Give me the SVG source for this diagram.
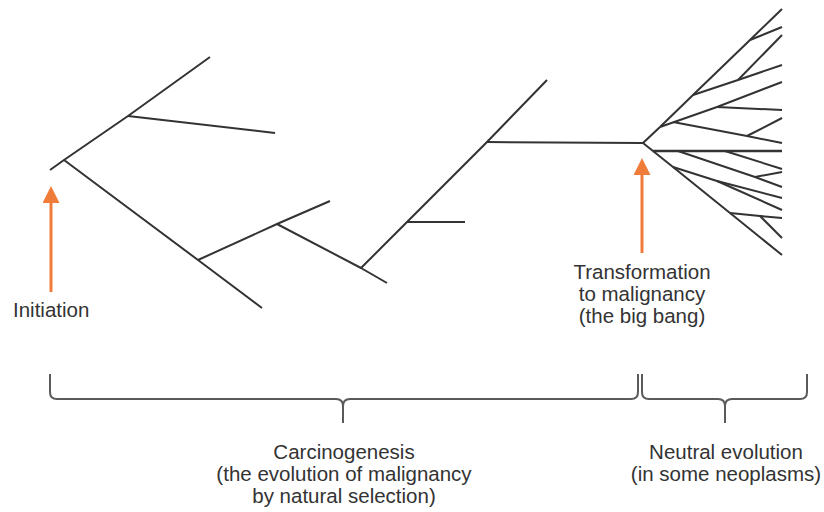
<svg xmlns="http://www.w3.org/2000/svg" width="824" height="512" viewBox="0 0 824 512">
  <defs>
    <style>
      .br { fill: none; stroke: #333; stroke-width: 2; stroke-linecap: butt; stroke-linejoin: round; }
      .brace { fill: none; stroke: #5a5a5a; stroke-width: 2; stroke-linejoin: round; }
      .arrow { stroke: #f07c3a; stroke-width: 3; fill: none; }
      .lbl { font-family: "Liberation Sans", Arial, Helvetica, sans-serif; font-size: 20.5px; fill: #333; }
      .mid { text-anchor: middle; }
    </style>
    <marker id="head" viewBox="0 0 17 17" refX="0" refY="8.5" markerWidth="17" markerHeight="17" markerUnits="userSpaceOnUse" orient="auto">
      <path d="M0,0 L17,8.5 L0,17 Z" fill="#f07c3a"/>
    </marker>
  </defs>
  <rect width="824" height="512" fill="#fff"/>

  <g id="connectors">
    <g id="carcinogenesis-tree">
      <path class="br" d="M50,170 L64,160 L128,116 L210,57"/>
      <path class="br" d="M128,116 L275,133"/>
      <path class="br" d="M64,160 L198,260 L262,308"/>
      <path class="br" d="M198,260 L277,224 L330,201"/>
      <path class="br" d="M277,224 L361,268 L387,283"/>
      <path class="br" d="M361,268 L407,222 L487,142 L547,80"/>
      <path class="br" d="M407,222 H465"/>
      <path class="br" d="M487,142 L643,143"/>
    </g>
    <g id="neutral-fan">
      <path class="br" d="M643,143 L660,127"/>
      <path class="br" d="M660,127 L693,95 L750,40 L782,9"/>
      <path class="br" d="M750,40 L782,27"/>
      <path class="br" d="M693,95 L738,80 L782,65"/>
      <path class="br" d="M738,80 L782,35"/>
      <path class="br" d="M660,127 L717,107 L782,82"/>
      <path class="br" d="M717,107 L782,110"/>
      <path class="br" d="M673,122 L747,136 L782,143"/>
      <path class="br" d="M747,136 L782,118"/>
      <path class="br" d="M643,143 L653,151 L673,167 L730,213 L782,255"/>
      <path class="br" d="M653,151 H782" style="stroke-width:2.4"/>
      <path class="br" d="M678,151 L755,177 L782,187"/>
      <path class="br" d="M755,177 L782,172"/>
      <path class="br" d="M725,151 L782,169"/>
      <path class="br" d="M673,167 L717,181 L782,198"/>
      <path class="br" d="M717,181 L782,210"/>
      <path class="br" d="M730,213 L760,216 L782,218"/>
      <path class="br" d="M760,216 L782,238"/>
    </g>
    <g id="arrows">
      <line class="arrow" x1="51" y1="292" x2="51" y2="203" marker-end="url(#head)"/>
      <line class="arrow" x1="642" y1="253" x2="642" y2="175" marker-end="url(#head)"/>
    </g>
  </g>

  <g id="brace-carcinogenesis">
    <path class="brace" d="M50,374 V392 Q50,399 57,399 H336 Q343,399 343,406 Q343,399 350,399 H631 Q638,399 638,392 V374 M343,405 V423"/>
  </g>
  <g id="brace-neutral">
    <path class="brace" d="M642,374 V392 Q642,399 649,399 H718 Q725,399 725,406 Q725,399 732,399 H800 Q807,399 807,392 V374 M725,405 V423"/>
  </g>

  <g id="label-initiation">
    <text class="lbl" x="13" y="317">Initiation</text>
  </g>
  <g id="label-transformation">
    <text class="lbl mid" x="642" y="279">Transformation</text>
    <text class="lbl mid" x="642" y="301">to malignancy</text>
    <text class="lbl mid" x="642" y="323">(the big bang)</text>
  </g>
  <g id="label-carcinogenesis">
    <text class="lbl mid" x="344" y="459">Carcinogenesis</text>
    <text class="lbl mid" x="344" y="481">(the evolution of malignancy</text>
    <text class="lbl mid" x="344" y="503">by natural selection)</text>
  </g>
  <g id="label-neutral">
    <text class="lbl mid" x="726" y="459">Neutral evolution</text>
    <text class="lbl mid" x="726" y="481">(in some neoplasms)</text>
  </g>
</svg>
